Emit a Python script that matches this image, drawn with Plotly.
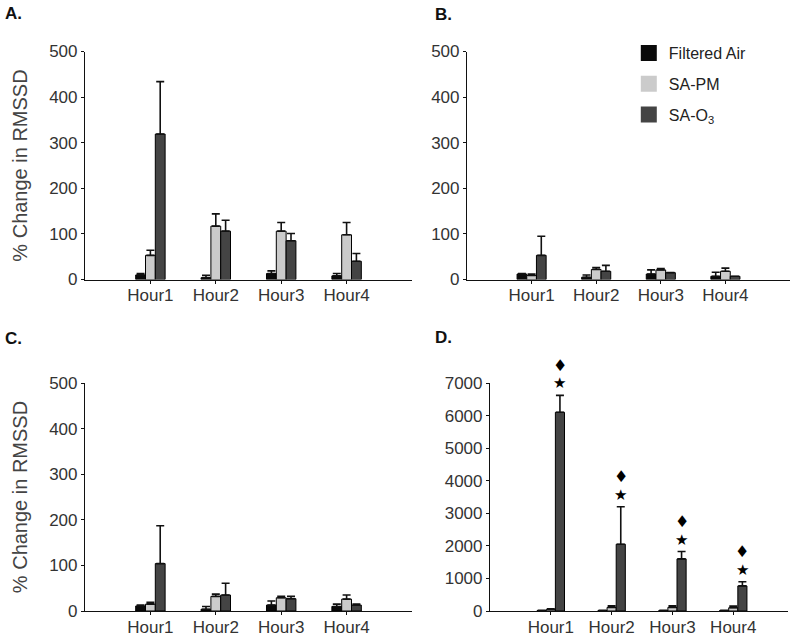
import plotly.graph_objects as go

hours = ["Hour1", "Hour2", "Hour3", "Hour4"]
series_names = ["Filtered Air", "SA-PM", "SA-O<sub>3</sub>"]
series_colors = ["#0a0a0a", "#cbcbcb", "#444444"]

# Panel A
A_fa = [10, 4, 13, 8]
A_fa_err = [3, 5, 6, 5]
A_pm = [53, 117, 106, 98]
A_pm_err = [11, 27, 19, 27]
A_o3 = [319, 106, 85, 40]
A_o3_err = [115, 24, 16, 17]

# Panel B
B_fa = [12, 5, 12, 7]
B_fa_err = [1, 5, 9, 9]
B_pm = [9, 22, 21, 18]
B_pm_err = [3, 4, 3, 7]
B_o3 = [53, 18, 15, 7]
B_o3_err = [42, 13, 0, 0]

# Panel C
C_fa = [11, 4, 13, 10]
C_fa_err = [2, 6, 9, 5]
C_pm = [15, 32, 29, 26]
C_pm_err = [4, 5, 3, 9]
C_o3 = [104, 35, 27, 13]
C_o3_err = [83, 26, 5, 2]

# Panel D
D_fa = [15, 15, 15, 15]
D_fa_err = [10, 10, 10, 10]
D_pm = [50, 110, 110, 100]
D_pm_err = [20, 50, 50, 50]
D_o3 = [6100, 2050, 1600, 770]
D_o3_err = [520, 1150, 225, 130]

panels = [
    ("x", "y", [A_fa, A_pm, A_o3], [A_fa_err, A_pm_err, A_o3_err]),
    ("x2", "y2", [B_fa, B_pm, B_o3], [B_fa_err, B_pm_err, B_o3_err]),
    ("x3", "y3", [C_fa, C_pm, C_o3], [C_fa_err, C_pm_err, C_o3_err]),
    ("x4", "y4", [D_fa, D_pm, D_o3], [D_fa_err, D_pm_err, D_o3_err]),
]

bargap = 0.55
xpos = list(range(len(hours)))

fig = go.Figure()
for xa, ya, vals, errs in panels:
    for k in range(3):
        fig.add_trace(go.Bar(
            x=xpos, y=vals[k], xaxis=xa, yaxis=ya,
            marker=dict(color=series_colors[k], line=dict(color="#000000", width=1)),
            error_y=dict(type="data", array=errs[k], arrayminus=[0] * len(hours),
                         symmetric=False, color="#111111", thickness=1.6, width=4),
            showlegend=False, offsetgroup=str(k), name=series_names[k],
        ))

# legend entries
for k in range(3):
    fig.add_trace(go.Scatter(
        x=[None], y=[None], xaxis="x2", yaxis="y2", mode="markers",
        marker=dict(symbol="square", size=20, color=series_colors[k],
                    line=dict(width=0)),
        name=series_names[k], legendgroup=str(k), showlegend=True,
    ))

font = "Liberation Sans, Arial, sans-serif"
tickfont = dict(family=font, size=17, color="#333333")

def xax(domain, rng, anchor):
    return dict(domain=domain, range=rng, anchor=anchor, tickvals=xpos, ticktext=hours,
                showline=True, linecolor="#111111", linewidth=1.2, ticks="outside",
                ticklen=3, tickcolor="#111111", showgrid=False, zeroline=False,
                tickfont=tickfont, fixedrange=True, automargin=False,
                ticklabelstandoff=-3)

def yax(domain, rng, dtick, anchor, title=None):
    d = dict(domain=domain, range=rng, anchor=anchor, dtick=dtick, tick0=0,
             showline=True, linecolor="#111111", linewidth=1.2, ticks="outside",
             ticklen=3, tickcolor="#111111", showgrid=False, zeroline=False,
             tickfont=tickfont, fixedrange=True, automargin=False)
    if title:
        d["title"] = dict(text=title, font=dict(family=font, size=20, color="#444444"),
                          standoff=16)
    return d

top_dom = [1 - 279.5 / 644, 1 - 51.5 / 644]
bot_dom = [1 - 611 / 644, 1 - 383 / 644]

fig.update_layout(
    width=800, height=644,
    margin=dict(l=0, r=0, t=0, b=0, autoexpand=False),
    paper_bgcolor="white", plot_bgcolor="white",
    barmode="group", bargap=bargap, bargroupgap=0,
    font=dict(family=font, color="#222222"),
    xaxis=xax([85 / 800, 412 / 800], [-1, 4], "y"),
    yaxis=yax(top_dom, [0, 500], 100, "x", "% Change in RMSSD"),
    xaxis2=xax([467 / 800, 790 / 800], [-1, 4], "y2"),
    yaxis2=yax(top_dom, [0, 500], 100, "x2"),
    xaxis3=xax([85 / 800, 412 / 800], [-1, 4], "y3"),
    yaxis3=yax(bot_dom, [0, 500], 100, "x3", "% Change in RMSSD"),
    xaxis4=xax([490 / 800, 788 / 800], [-1, 3.9], "y4"),
    yaxis4=yax(bot_dom, [0, 7000], 1000, "x4"),
    legend=dict(x=0.786, y=0.944, xanchor="left", yanchor="top",
                font=dict(family=font, size=16, color="#222222"),
                tracegroupgap=7, traceorder="grouped", bgcolor="rgba(0,0,0,0)"),
)

annotations = []
for txt, x, y in [("A.", 3, 13), ("B.", 433, 15), ("C.", 3, 338), ("D.", 433, 337)]:
    annotations.append(dict(text="<b>%s</b>" % txt, x=x / 800, y=1 - y / 644, xref="paper",
                            yref="paper", xanchor="left", yanchor="middle", showarrow=False,
                            font=dict(family=font, size=17, color="#111111")))

bw = (1 - bargap) / 3
for i in range(len(hours)):
    top = D_o3[i] + D_o3_err[i]
    annotations.append(dict(text="★", x=xpos[i] + bw, y=top, xref="x4", yref="y4",
                            yshift=12, showarrow=False, yanchor="middle",
                            font=dict(family="DejaVu Sans", size=15, color="#000000")))
    annotations.append(dict(text="♦", x=xpos[i] + bw, y=top, xref="x4", yref="y4",
                            yshift=30, showarrow=False, yanchor="middle",
                            font=dict(family="DejaVu Sans", size=16, color="#000000")))
fig.update_layout(annotations=annotations)

fig.write_html("out.html", config={"displayModeBar": False},
               post_script="document.body.style.margin='0';document.body.style.padding='0';")
